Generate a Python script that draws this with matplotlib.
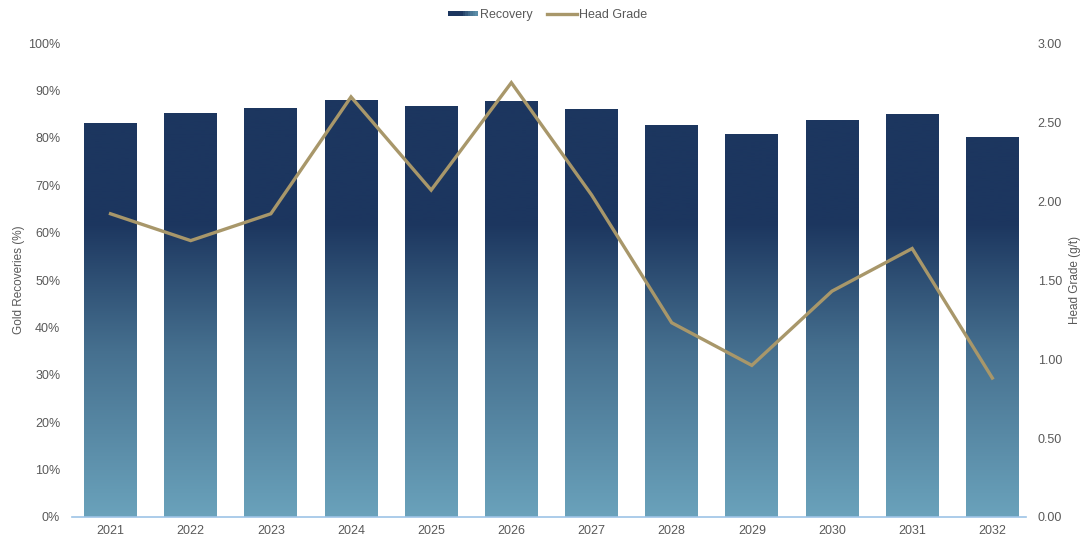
import numpy as np
import matplotlib
matplotlib.use("Agg")
import matplotlib.pyplot as plt
from matplotlib.colors import LinearSegmentedColormap
from matplotlib.legend_handler import HandlerBase
from matplotlib.patches import Rectangle
from matplotlib.lines import Line2D
from matplotlib.ticker import FuncFormatter

plt.rcParams['font.family'] = ['Liberation Sans', 'DejaVu Sans']

years = ['2021', '2022', '2023', '2024', '2025', '2026', '2027', '2028', '2029', '2030', '2031', '2032']
recovery = [83.1, 85.2, 86.3, 88.0, 86.7, 87.8, 86.1, 82.7, 80.8, 83.8, 85.0, 80.2]
head_grade = [1.92, 1.75, 1.92, 2.66, 2.07, 2.75, 2.04, 1.23, 0.96, 1.43, 1.70, 0.88]

DARK = '#1c365f'
LIGHT = '#6aa2bb'
GOLD = '#a8976a'
TXT = '#595959'

cmap = LinearSegmentedColormap.from_list(
    'rec', [(0.0, LIGHT), (0.35, '#46708f'), (0.62, DARK), (1.0, DARK)])

fig = plt.figure(figsize=(10.8, 5.4), dpi=100)
ax = fig.add_axes([0.0667, 0.0426, 0.8833, 0.8774])
ax2 = ax.twinx()

x = np.arange(len(years))
bars = ax.bar(x, recovery, width=0.66, color='none', edgecolor='none', zorder=2)
grad = np.linspace(0, 1, 256).reshape(-1, 1)
for b in bars:
    im = ax.imshow(grad, cmap=cmap, origin='lower', aspect='auto',
                   extent=[-0.6, len(years) - 0.4, 0, 100], zorder=2, vmin=0, vmax=1)
    im.set_clip_path(b)

ax2.plot(x, head_grade, color=GOLD, lw=2.4, zorder=5, solid_joinstyle='miter')

ax.set_xlim(-0.48, len(years) - 0.58)
ax.set_ylim(0, 100)
ax.set_yticks(np.arange(0, 101, 10))
ax.yaxis.set_major_formatter(FuncFormatter(lambda v, p: f'{int(v)}%'))
ax.set_xticks(x)
ax.set_xticklabels(years)

ax2.set_ylim(0, 3.0)
ax2.set_yticks(np.arange(0, 3.01, 0.5))
ax2.yaxis.set_major_formatter(FuncFormatter(lambda v, p: f'{v:.2f}'))

for a in (ax, ax2):
    for s in a.spines.values():
        s.set_visible(False)
    a.tick_params(length=0, labelsize=9, labelcolor=TXT)
ax.spines['bottom'].set_visible(True)
ax.spines['bottom'].set_color('#9dc3e6')
ax.spines['bottom'].set_linewidth(1.2)
ax.tick_params(axis='y', pad=8.5)
ax.tick_params(axis='x', pad=6)
ax2.tick_params(axis='y', pad=8.5)

ax.set_ylabel('Gold Recoveries (%)', fontsize=8.5, color=TXT, labelpad=2)
ax2.set_ylabel('Head Grade (g/t)', fontsize=8.5, color=TXT, labelpad=5)


class GradHandler(HandlerBase):
    def create_artists(self, legend, orig, xd, yd, w, h, fontsize, trans):
        arts = []
        n = 12
        for i in range(n):
            c = cmap(1 - i / (n - 1) * 0.85)
            r = Rectangle((xd + w * i / n, yd + h * 0.2), w / n + 0.3, h * 0.6,
                          facecolor=c, edgecolor='none', transform=trans)
            arts.append(r)
        return arts


h1 = Rectangle((0, 0), 1, 1)
h2 = Line2D([0], [0], color=GOLD, lw=2.4)
fig.legend([h1, h2], ['Recovery', 'Head Grade'], handler_map={h1: GradHandler()},
           loc='center', bbox_to_anchor=(0.507, 0.972), ncol=2, frameon=False,
           fontsize=9, labelcolor=TXT, handlelength=2.4, handletextpad=0.15,
           columnspacing=1.2)

fig.savefig('out.png', dpi=100)
